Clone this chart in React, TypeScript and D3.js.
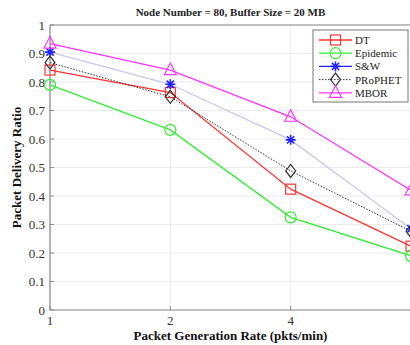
import React, { useRef, useEffect } from 'react';
import * as d3 from 'd3';

const rates = [1, 2, 4, 8];
const yTicks = [0, 0.1, 0.2, 0.3, 0.4, 0.5, 0.6, 0.7, 0.8, 0.9, 1];
const xTicks = [1, 2, 4, 8];
const xTickLabels = ['1', '2', '4', ''];

const seriesNames = ['DT', 'Epidemic', 'S&W', 'PRoPHET', 'MBOR'];
const dtValues = [0.842, 0.763, 0.424, 0.224];
const epidemicValues = [0.79, 0.632, 0.325, 0.19];
const swValues = [0.905, 0.792, 0.597, 0.285];
const prophetValues = [0.868, 0.748, 0.488, 0.276];
const mborValues = [0.935, 0.842, 0.678, 0.42];

const lineColors = ['#ff3333', '#33ee33', '#c8c8f0', '#333333', '#ff33ff'];
const markerColors = ['#ff3333', '#33ee33', '#2222ff', '#333333', '#ff33ff'];
const markerTypes = ['square', 'circle', 'star', 'diamond', 'triangle'];

function drawMarker(g, type, x, y, color) {
  if (type === 'square') {
    g.append('rect').attr('x', x - 5).attr('y', y - 5).attr('width', 10).attr('height', 10)
      .attr('fill', 'none').attr('stroke', color).attr('stroke-width', 1.2);
  } else if (type === 'circle') {
    g.append('circle').attr('cx', x).attr('cy', y).attr('r', 5.5)
      .attr('fill', 'none').attr('stroke', color).attr('stroke-width', 1.2);
  } else if (type === 'star') {
    const r = 5;
    const d = r * 0.72;
    const p = `M${x - r},${y}L${x + r},${y}M${x},${y - r}L${x},${y + r}M${x - d},${y - d}L${x + d},${y + d}M${x - d},${y + d}L${x + d},${y - d}`;
    g.append('path').attr('d', p).attr('stroke', color).attr('stroke-width', 1.6).attr('fill', 'none');
  } else if (type === 'diamond') {
    const p = `M${x},${y - 6.5}L${x + 5},${y}L${x},${y + 6.5}L${x - 5},${y}Z`;
    g.append('path').attr('d', p).attr('fill', 'none').attr('stroke', color).attr('stroke-width', 1.2);
  } else {
    const p = `M${x},${y - 7}L${x + 6},${y + 4.5}L${x - 6},${y + 4.5}Z`;
    g.append('path').attr('d', p).attr('fill', 'none').attr('stroke', color).attr('stroke-width', 1.2);
  }
}

export default function App() {
  const ref = useRef(null);

  useEffect(() => {
    const svg = d3.select(ref.current);
    svg.selectAll('*').remove();

    const left = 50, right = 411, top = 25, bottom = 310;
    const x = d3.scaleLog().base(2).domain([1, 8]).range([left, right]);
    const y = d3.scaleLinear().domain([0, 1]).range([bottom, top]);

    const font = '"Liberation Serif", "Times New Roman", serif';
    const allValues = [dtValues, epidemicValues, swValues, prophetValues, mborValues];

    svg.append('rect').attr('width', 410).attr('height', 345).attr('fill', '#fff');

    // grid
    const grid = svg.append('g');
    yTicks.forEach(t => {
      grid.append('line').attr('x1', left).attr('x2', right).attr('y1', y(t)).attr('y2', y(t))
        .attr('stroke', '#ececec').attr('stroke-width', 1);
    });
    xTicks.forEach(t => {
      grid.append('line').attr('x1', x(t)).attr('x2', x(t)).attr('y1', top).attr('y2', bottom)
        .attr('stroke', '#ececec').attr('stroke-width', 1);
    });

    // frame
    svg.append('path')
      .attr('d', `M${left},${top}L${left},${bottom}L${right},${bottom}M${left},${top}L${right},${top}`)
      .attr('stroke', '#8a8a8a').attr('stroke-width', 1.2).attr('fill', 'none');

    // ticks
    yTicks.forEach(t => {
      svg.append('line').attr('x1', left).attr('x2', left + 4).attr('y1', y(t)).attr('y2', y(t))
        .attr('stroke', '#8a8a8a');
      svg.append('text').attr('x', left - 5).attr('y', y(t) + 4.5).attr('text-anchor', 'end')
        .attr('font-family', font).attr('font-size', 13).attr('fill', '#333')
        .text(t === 0 ? '0' : t === 1 ? '1' : d3.format('.1f')(t));
    });
    xTicks.forEach((t, i) => {
      svg.append('line').attr('x1', x(t)).attr('x2', x(t)).attr('y1', bottom).attr('y2', bottom - 4)
        .attr('stroke', '#8a8a8a');
      if (xTickLabels[i]) {
        svg.append('text').attr('x', x(t)).attr('y', bottom + 15).attr('text-anchor', 'middle')
          .attr('font-family', font).attr('font-size', 13).attr('fill', '#333')
          .text(xTickLabels[i]);
      }
    });

    // series
    const line = d3.line().x((d, i) => x(rates[i])).y(d => y(d));
    allValues.forEach((vals, si) => {
      const g = svg.append('g');
      g.append('path').attr('d', line(vals)).attr('fill', 'none')
        .attr('stroke', lineColors[si]).attr('stroke-width', si === 3 ? 1 : 1.3)
        .attr('stroke-dasharray', si === 3 ? '1.5,1.5' : null);
      vals.forEach((v, i) => drawMarker(g, markerTypes[si], x(rates[i]), y(v), markerColors[si]));
    });

    // title and labels
    svg.append('text').attr('x', (left + right) / 2).attr('y', 16).attr('text-anchor', 'middle')
      .attr('font-family', font).attr('font-size', 11).attr('font-weight', 'bold').attr('fill', '#222')
      .text('Node Number = 80, Buffer Size = 20 MB');
    svg.append('text').attr('x', (left + right) / 2).attr('y', 340).attr('text-anchor', 'middle')
      .attr('font-family', font).attr('font-size', 13).attr('font-weight', 'bold').attr('fill', '#111')
      .text('Packet Generation Rate (pkts/min)');
    svg.append('text').attr('transform', `translate(21,${(top + bottom) / 2}) rotate(-90)`)
      .attr('text-anchor', 'middle')
      .attr('font-family', font).attr('font-size', 13).attr('font-weight', 'bold').attr('fill', '#111')
      .text('Packet Delivery Ratio');

    // legend
    const lg = svg.append('g');
    lg.append('rect').attr('x', 313).attr('y', 30).attr('width', 95).attr('height', 72)
      .attr('fill', '#fff').attr('stroke', '#777').attr('stroke-width', 1);
    seriesNames.forEach((name, si) => {
      const ly = 40 + si * 13.2;
      lg.append('line').attr('x1', 319).attr('x2', 352).attr('y1', ly).attr('y2', ly)
        .attr('stroke', si === 2 ? '#2222ff' : lineColors[si]).attr('stroke-width', si === 3 ? 1 : 1.3)
        .attr('stroke-dasharray', si === 3 ? '1.5,1.5' : null);
      drawMarker(lg, markerTypes[si], 335.5, ly, markerColors[si]);
      lg.append('text').attr('x', 355).attr('y', ly + 4).attr('font-family', font)
        .attr('font-size', 11).attr('fill', '#222').text(name);
    });
  }, []);

  return (
    <svg ref={ref} width={410} height={345}
      style={{ position: 'absolute', left: 0, top: 0, display: 'block' }} />
  );
}
